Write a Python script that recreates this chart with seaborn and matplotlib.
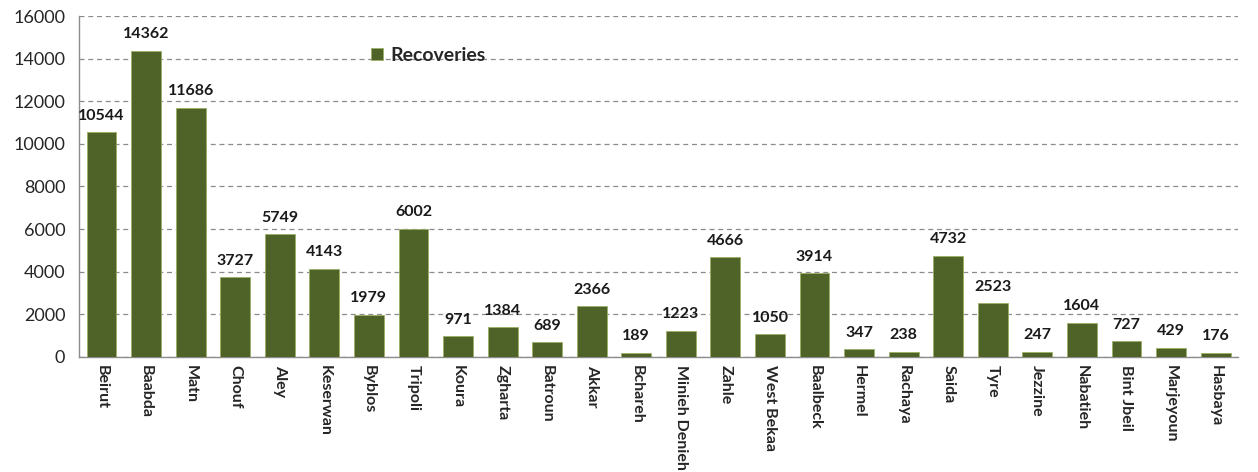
import pandas as pd
import seaborn as sns
import matplotlib.pyplot as plt

districts = ['Beirut', 'Baabda', 'Matn', 'Chouf', 'Aley', 'Keserwan', 'Byblos', 'Tripoli',
             'Koura', 'Zgharta', 'Batroun', 'Akkar', 'Bchareh', 'Minieh Denieh', 'Zahle',
             'West Bekaa', 'Baalbeck', 'Hermel', 'Rachaya', 'Saida', 'Tyre', 'Jezzine',
             'Nabatieh', 'Bint Jbeil', 'Marjeyoun', 'Hasbaya']
recoveries = [10544, 14362, 11686, 3727, 5749, 4143, 1979, 6002, 971, 1384, 689, 2366, 189,
              1223, 4666, 1050, 3914, 347, 238, 4732, 2523, 247, 1604, 727, 429, 176]

df = pd.DataFrame({'District': districts, 'Recoveries': recoveries})

sns.set_style('white')
plt.rcParams['font.family'] = ['Lato', 'DejaVu Sans']

fig = plt.figure(figsize=(12.58, 4.72), dpi=100)
ax = fig.add_axes([0.063, 0.244, 0.921, 0.722])

sns.barplot(data=df, x='District', y='Recoveries', color='#4F6228', saturation=1,
            width=0.67, edgecolor='#9BB064', linewidth=0.6, ax=ax, label='Recoveries',
            zorder=3)

# value labels above bars
for i, v in enumerate(recoveries):
    ax.text(i, v + 450, str(v), ha='center', va='bottom', fontsize=11.5, fontweight='bold',
            color='#1a1a1a')

ax.set_ylim(0, 16000)
ax.set_yticks(range(0, 16001, 2000))
ax.set_xlim(-0.5, len(districts) - 0.5)
ax.yaxis.grid(True, linestyle=(0, (4, 3)), color='#8c8c8c', linewidth=0.9, zorder=0)
ax.set_axisbelow(True)

for s in ['top', 'right']:
    ax.spines[s].set_visible(False)
for s in ['left', 'bottom']:
    ax.spines[s].set_color('#8c8c8c')
    ax.spines[s].set_linewidth(1)

ax.set_xticks([i - 0.5 for i in range(len(districts) + 1)], minor=True)
ax.tick_params(axis='x', which='minor', length=6, color='#8c8c8c', width=1)
ax.tick_params(axis='x', which='major', length=0, pad=6)
ax.tick_params(axis='y', length=6, color='#8c8c8c', width=1, labelsize=13, pad=4)
ax.set_xticks(range(len(districts)))
ax.set_xticklabels(districts, rotation=-90, fontsize=11.5, fontweight='bold', va='top')
ax.set_xlabel('')
ax.set_ylabel('')

ax.legend(loc='upper left', bbox_to_anchor=(0.237, 0.96), frameon=False,
          prop={'weight': 'bold', 'size': 14}, handlelength=0.6, handleheight=0.6,
          handletextpad=0.4)

fig.savefig('out.png', dpi=100)
